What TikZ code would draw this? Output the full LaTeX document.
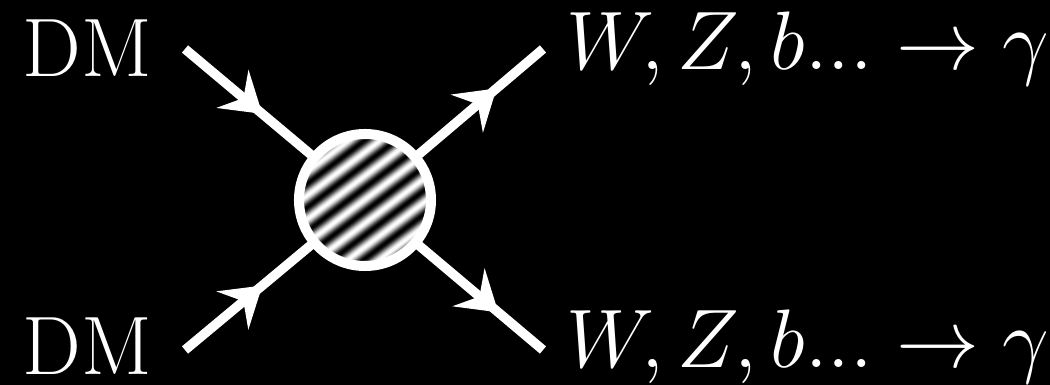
\RequirePackage{fix-cm}
\documentclass[tikz,border=0pt]{standalone}
\usepackage{amsmath}
\usetikzlibrary{arrows.meta,decorations.markings,calc}

\begin{document}
\begin{tikzpicture}[x=0.01cm, y=-0.01cm,
    leg/.style={white, line width=2.7pt},
    fermion/.style={leg, postaction={decorate}, decoration={markings, mark=at position #1 with {\arrow{Stealth[length=11pt, width=14pt, inset=4pt]}}}},
    lbl/.style={text=white, inner sep=0pt, anchor=base west, font=\fontsize{23.6}{28}\selectfont},
    ring/.style={draw=white, line width=2.85pt}
]
% --- Background ---
\fill[black] (0,0) rectangle (1050,385);
\useasboundingbox (0,0) rectangle (1050,385);

% --- Labels and end points ---
\node[lbl] (dmtop) at (22,77) {DM};
\node[lbl] (dmbot) at (22,375) {DM};
\node[lbl] (outtop) at (566,70) {$W, Z, b... \to \gamma$};
\node[lbl] (outbot) at (566,368) {$W, Z, b... \to \gamma$};
\coordinate (in1) at (185,49);
\coordinate (in2) at (185,350);
\coordinate (out1) at (543,49);
\coordinate (out2) at (543,350);
\coordinate (blob) at (365,200);

% --- Legs ---
\draw[fermion=0.43] (in1) -- (blob);
\draw[fermion=0.43] (in2) -- (blob);
\draw[fermion=0.74] (blob) -- (out1);
\draw[fermion=0.75] (blob) -- (out2);

% --- Hatched blob ---
\begin{scope}
  \clip (blob) circle (62);
  \fill[black] (blob) circle (62);
  \begin{scope}[shift={(blob)}, rotate=37]
    \foreach \d in {-80,...,80} {
      \pgfmathsetmacro\inten{50+50*cos(19*\d)}
      \draw[line width=0.45pt, white!\inten!black] (-90,\d) -- (90,\d);
    }
  \end{scope}
\end{scope}
\draw[ring] (blob) circle (66);
\end{tikzpicture}
\end{document}
